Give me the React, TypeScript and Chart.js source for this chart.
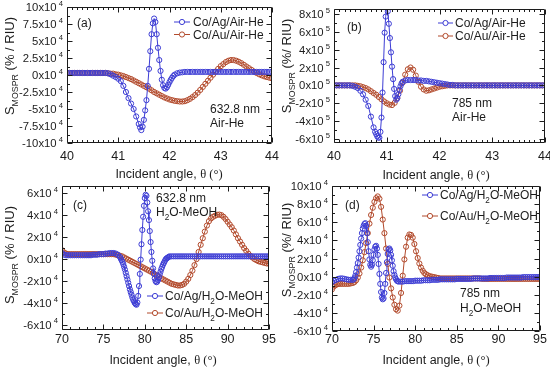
import { useEffect, useRef } from 'react';
import { Chart, registerables } from 'chart.js';

Chart.register(...registerables);

const W = 550;
const H = 367;

// ---------------- data (y in units of 10^4, panel b in 10^5) ----------------
const AG_AIR_632: number[][] = [
  [40,0.3],[40.05,0.3],[40.1,0.3],[40.15,0.3],[40.2,0.3],[40.25,0.3],[40.3,0.3],[40.35,0.3],[40.4,0.3],[40.45,0.3],
  [40.5,0.3],[40.55,0.3],[40.6,0.3],[40.65,0.3],[40.7,0.3],[40.75,0.3],[40.8,0.25],[40.85,0.1],[40.9,-0.1],[40.95,-0.3],
  [41,-0.55],[41.05,-0.9],[41.1,-1.6],[41.15,-2.5],[41.2,-3.4],[41.25,-4.2],[41.3,-5.0],[41.35,-6.1],[41.4,-7.2],[41.425,-7.7],
  [41.45,-8.1],[41.475,-7.6],[41.5,-6.6],[41.525,-5.2],[41.55,-3.7],[41.575,-1.6],[41.6,0.9],[41.625,3.5],[41.65,6.0],[41.675,7.6],
  [41.7,8.3],[41.725,7.8],[41.75,6.0],[41.775,4.0],[41.8,2.2],[41.825,0.6],[41.85,-0.7],[41.875,-1.5],[41.9,-1.9],[41.925,-2.0],
  [41.95,-1.8],[41.975,-1.45],[42,-1.05],[42.025,-0.7],[42.05,-0.4],[42.075,-0.15],[42.1,0.05],[42.15,0.25],[42.2,0.35],[42.25,0.4],
  [42.3,0.45],[42.35,0.45],[42.4,0.45],[42.45,0.45],[42.5,0.45],[42.55,0.45],[42.6,0.45],[42.65,0.45],[42.7,0.45],[42.75,0.45],
  [42.8,0.45],[42.85,0.45],[42.9,0.45],[42.95,0.45],[43,0.45],[43.05,0.45],[43.1,0.45],[43.15,0.45],[43.2,0.45],[43.25,0.45],
  [43.3,0.45],[43.35,0.45],[43.4,0.45],[43.45,0.45],[43.5,0.45],[43.55,0.45],[43.6,0.45],[43.65,0.45],[43.7,0.45],[43.75,0.45],
  [43.8,0.45],[43.85,0.45],[43.9,0.45],[43.95,0.45],[44,0.45],
];

const AU_AIR_632: number[][] = [
  [40,0.3],[40.05,0.3],[40.1,0.3],[40.15,0.3],[40.2,0.3],[40.25,0.3],[40.3,0.3],[40.35,0.3],[40.4,0.3],[40.45,0.3],
  [40.5,0.3],[40.55,0.3],[40.6,0.3],[40.65,0.3],[40.7,0.3],[40.75,0.3],[40.8,0.25],[40.85,0.2],[40.9,0.2],[40.95,0.1],
  [41,0.05],[41.05,-0.05],[41.1,-0.15],[41.15,-0.3],[41.2,-0.45],[41.25,-0.6],[41.3,-0.8],[41.35,-1.0],[41.4,-1.2],[41.45,-1.4],
  [41.5,-1.6],[41.55,-1.8],[41.6,-2.0],[41.65,-2.25],[41.7,-2.5],[41.75,-2.7],[41.8,-2.9],[41.85,-3.1],[41.9,-3.3],[41.95,-3.45],
  [42,-3.6],[42.05,-3.7],[42.1,-3.8],[42.15,-3.85],[42.2,-3.9],[42.25,-3.9],[42.3,-3.85],[42.35,-3.7],[42.4,-3.5],[42.45,-3.25],
  [42.5,-2.95],[42.55,-2.6],[42.6,-2.2],[42.65,-1.75],[42.7,-1.3],[42.75,-0.85],[42.8,-0.4],[42.85,0.05],[42.9,0.5],[42.95,0.9],
  [43,1.3],[43.05,1.6],[43.1,1.9],[43.15,2.1],[43.2,2.2],[43.25,2.2],[43.3,2.1],[43.35,1.95],[43.4,1.75],[43.45,1.5],
  [43.5,1.25],[43.55,1.0],[43.6,0.75],[43.65,0.5],[43.7,0.3],[43.75,0.1],[43.8,-0.05],[43.85,-0.2],[43.9,-0.3],[43.95,-0.4],
  [44,-0.5],
];

const AG_AIR_785: number[][] = [
  [40,0],[40.05,0],[40.1,0],[40.15,0],[40.2,0],[40.25,0],[40.3,0],[40.35,-0.05],[40.4,-0.15],[40.45,-0.3],
  [40.5,-0.6],[40.55,-1.0],[40.6,-1.6],[40.65,-2.3],[40.7,-3.5],[40.75,-4.7],[40.78,-5.2],[40.8,-5.45],[40.82,-5.7],[40.84,-5.85],
  [40.86,-5.85],[40.88,-5.2],[40.9,-3.6],[40.92,-0.8],[40.94,2.6],[40.96,5.9],[40.98,7.7],[41,8.9],[41.02,8.3],[41.04,6.9],
  [41.06,5.3],[41.08,3.7],[41.1,2.1],[41.12,0.7],[41.14,-0.4],[41.16,-1.2],[41.18,-1.6],[41.2,-1.45],[41.22,-1.0],[41.24,-0.5],
  [41.26,-0.1],[41.28,0.2],[41.3,0.4],[41.35,0.55],[41.4,0.6],[41.45,0.6],[41.5,0.6],[41.55,0.6],[41.6,0.55],[41.65,0.55],
  [41.7,0.5],[41.75,0.5],[41.8,0.45],[41.85,0.4],[41.9,0.35],[41.95,0.3],[42,0.25],[42.05,0.2],[42.1,0.15],[42.15,0.1],
  [42.2,0.05],[42.25,0.05],[42.3,0],[42.35,0],[42.4,0],[42.45,0],[42.5,0],[42.55,0],[42.6,0],[42.65,0],
  [42.7,0],[42.75,0],[42.8,0],[42.85,0],[42.9,0],[42.95,0],[43,0],[43.05,0],[43.1,0],[43.15,0],
  [43.2,0],[43.25,0],[43.3,0],[43.35,0],[43.4,0],[43.45,0],[43.5,0],[43.55,0],[43.6,0],[43.65,0],
  [43.7,0],[43.75,0],[43.8,0],[43.85,0],[43.9,0],[43.95,0],[44,0],
];

const AU_AIR_785: number[][] = [
  [40,0],[40.05,0],[40.1,0],[40.15,0],[40.2,0],[40.25,0],[40.3,0],[40.35,0],[40.4,0],[40.45,-0.05],
  [40.5,-0.1],[40.55,-0.2],[40.6,-0.3],[40.65,-0.45],[40.7,-0.65],[40.75,-0.85],[40.8,-1.05],[40.85,-1.3],[40.9,-1.55],[40.95,-1.8],
  [41,-2.0],[41.05,-2.15],[41.1,-2.2],[41.15,-1.95],[41.2,-1.4],[41.25,-0.6],[41.3,0.3],[41.35,1.2],[41.4,1.8],[41.45,2.0],
  [41.5,1.75],[41.55,1.1],[41.6,0.4],[41.65,-0.15],[41.7,-0.45],[41.75,-0.6],[41.8,-0.55],[41.85,-0.45],[41.9,-0.35],[41.95,-0.25],
  [42,-0.15],[42.05,-0.1],[42.1,-0.05],[42.15,0],[42.2,0],[42.25,0],[42.3,0],[42.35,0],[42.4,0],[42.45,0],
  [42.5,0],[42.55,0],[42.6,0],[42.65,0],[42.7,0],[42.75,0],[42.8,0],[42.85,0],[42.9,0],[42.95,0],
  [43,0],[43.05,0],[43.1,0],[43.15,0],[43.2,0],[43.25,0],[43.3,0],[43.35,0],[43.4,0],[43.45,0],
  [43.5,0],[43.55,0],[43.6,0],[43.65,0],[43.7,0],[43.75,0],[43.8,0],[43.85,0],[43.9,0],[43.95,0],
  [44,0],
];

const AG_LIQ_632: number[][] = [
  [70,0.5],[70.25,0.35],[70.5,0.3],[70.75,0.3],[71,0.3],[71.25,0.3],[71.5,0.3],[71.75,0.3],[72,0.3],[72.25,0.3],
  [72.5,0.3],[72.75,0.3],[73,0.3],[73.25,0.3],[73.5,0.3],[73.75,0.35],[74,0.35],[74.25,0.35],[74.5,0.4],[74.75,0.4],
  [75,0.4],[75.25,0.45],[75.5,0.45],[75.75,0.5],[76,0.5],[76.25,0.5],[76.5,0.45],[76.75,0.35],[77,0.15],
  [77.1,0],[77.2,-0.15],[77.3,-0.3],[77.4,-0.5],[77.5,-0.75],[77.6,-1.0],[77.7,-1.3],[77.8,-1.6],[77.9,-1.9],[78,-2.2],
  [78.1,-2.5],[78.2,-2.8],[78.3,-3.05],[78.4,-3.3],[78.5,-3.55],[78.6,-3.75],[78.7,-3.9],[78.8,-4.05],[78.9,-4.15],[79,-4.2],
  [79.1,-4.0],[79.2,-3.4],[79.3,-2.5],[79.4,-1.4],[79.5,-0.1],[79.6,1.3],[79.7,2.6],[79.8,3.8],[79.9,4.8],[80,5.5],
  [80.1,5.8],[80.2,5.7],[80.3,5.1],[80.4,4.3],[80.5,3.5],[80.6,2.5],[80.7,1.5],[80.8,0.6],[80.9,-0.2],[81,-0.9],
  [81.1,-1.4],[81.2,-1.8],[81.3,-2.05],[81.4,-2.15],[81.5,-2.1],[81.6,-1.95],[81.7,-1.7],[81.8,-1.45],[81.9,-1.2],[82,-0.95],
  [82.1,-0.75],[82.2,-0.55],[82.3,-0.4],[82.4,-0.25],[82.5,-0.1],[82.6,0],[82.7,0.05],[82.8,0.1],[82.9,0.15],[83,0.2],
  [83.25,0.2],[83.5,0.2],[83.75,0.2],[84,0.2],[84.25,0.2],[84.5,0.2],[84.75,0.2],[85,0.2],[85.25,0.2],[85.5,0.2],
  [85.75,0.2],[86,0.2],[86.25,0.2],[86.5,0.2],[86.75,0.2],[87,0.2],[87.25,0.2],[87.5,0.2],[87.75,0.2],[88,0.2],
  [88.25,0.2],[88.5,0.2],[88.75,0.2],[89,0.2],[89.25,0.2],[89.5,0.2],[89.75,0.2],[90,0.2],[90.25,0.2],[90.5,0.2],
  [90.75,0.2],[91,0.2],[91.25,0.2],[91.5,0.2],[91.75,0.2],[92,0.2],[92.25,0.2],[92.5,0.2],[92.75,0.2],[93,0.2],
  [93.25,0.2],[93.5,0.2],[93.75,0.2],[94,0.2],[94.25,0.2],[94.5,0.2],[94.75,0.2],[95,0.2],
];

const AU_LIQ_632: number[][] = [
  [70,0.75],[70.25,0.55],[70.5,0.45],[70.75,0.4],[71,0.4],[71.25,0.4],[71.5,0.4],[71.75,0.4],[72,0.4],[72.25,0.4],
  [72.5,0.4],[72.75,0.4],[73,0.4],[73.25,0.4],[73.5,0.4],[73.75,0.4],[74,0.4],[74.25,0.4],[74.5,0.4],[74.75,0.4],
  [75,0.4],[75.25,0.4],[75.5,0.4],[75.75,0.4],[76,0.4],[76.25,0.4],[76.5,0.35],[76.75,0.3],[77,0.25],[77.25,0.2],
  [77.5,0.1],[77.75,0],[78,-0.1],[78.25,-0.2],[78.5,-0.3],[78.75,-0.4],[79,-0.5],[79.25,-0.6],[79.5,-0.7],[79.75,-0.8],
  [80,-0.9],[80.25,-1.0],[80.5,-1.1],[80.75,-1.2],[81,-1.3],[81.25,-1.45],[81.5,-1.55],[81.75,-1.7],[82,-1.8],[82.25,-1.9],
  [82.5,-2.0],[82.75,-2.1],[83,-2.2],[83.25,-2.3],[83.5,-2.35],[83.75,-2.4],[84,-2.45],[84.25,-2.45],[84.5,-2.4],[84.75,-2.3],
  [85,-2.1],[85.25,-1.85],[85.5,-1.5],[85.75,-1.1],[86,-0.6],[86.25,-0.05],[86.5,0.6],[86.75,1.25],[87,1.85],[87.25,2.45],
  [87.5,3.0],[87.75,3.4],[88,3.65],[88.25,3.8],[88.5,3.9],[88.75,3.98],[89,4.0],[89.25,3.95],[89.5,3.8],[89.75,3.6],
  [90,3.35],[90.25,3.1],[90.5,2.85],[90.75,2.55],[91,2.2],[91.25,1.85],[91.5,1.55],[91.75,1.25],[92,0.95],[92.25,0.7],
  [92.5,0.45],[92.75,0.25],[93,0.1],[93.25,-0.05],[93.5,-0.15],[93.75,-0.25],[94,-0.3],[94.25,-0.35],[94.5,-0.4],[94.75,-0.45],
  [95,-0.45],
];

const AG_LIQ_785: number[][] = [
  [70,-0.6],[70.25,-0.45],[70.5,-0.35],[70.75,-0.25],[71,-0.2],[71.25,-0.2],[71.5,-0.25],[71.75,-0.3],[72,-0.35],[72.25,-0.35],
  [72.5,-0.35],[72.6,-0.3],[72.7,-0.15],[72.8,0.1],[72.9,0.5],[73,1.0],[73.1,1.5],[73.2,2.1],[73.3,2.8],[73.4,3.5],
  [73.5,4.2],[73.6,4.8],[73.7,5.3],[73.8,5.6],[73.9,5.8],[74,5.9],[74.1,5.6],[74.2,4.8],[74.3,3.8],[74.4,2.8],
  [74.5,1.9],[74.6,1.3],[74.7,1.1],[74.8,1.3],[74.9,1.8],[75,2.4],[75.1,3.0],[75.2,3.3],[75.3,3.4],[75.4,3.1],
  [75.5,2.4],[75.6,1.4],[75.7,0.3],[75.8,-0.8],[75.9,-1.7],[76,-2.3],[76.1,-2.5],[76.2,-2.4],[76.3,-1.8],[76.4,-0.8],
  [76.5,0.4],[76.6,1.6],[76.7,2.5],[76.8,3.0],[76.9,3.1],[77,2.9],[77.1,2.4],[77.2,1.8],[77.3,1.2],[77.4,0.6],
  [77.5,0.2],[77.6,-0.1],[77.7,-0.3],[77.8,-0.45],[77.9,-0.5],[78,-0.55],[78.25,-0.55],[78.5,-0.55],[78.75,-0.5],[79,-0.5],
  [79.25,-0.5],[79.5,-0.5],[79.75,-0.5],[80,-0.45],[80.25,-0.45],[80.5,-0.45],[80.75,-0.45],[81,-0.4],[81.25,-0.4],[81.5,-0.4],
  [81.75,-0.4],[82,-0.35],[82.25,-0.35],[82.5,-0.35],[82.75,-0.35],[83,-0.3],[83.25,-0.3],[83.5,-0.3],[83.75,-0.3],[84,-0.3],
  [84.25,-0.3],[84.5,-0.3],[84.75,-0.3],[85,-0.25],[85.25,-0.25],[85.5,-0.25],[85.75,-0.25],[86,-0.25],[86.25,-0.25],[86.5,-0.25],
  [86.75,-0.25],[87,-0.2],[87.25,-0.2],[87.5,-0.2],[87.75,-0.2],[88,-0.2],[88.25,-0.2],[88.5,-0.2],[88.75,-0.2],[89,-0.15],
  [89.25,-0.15],[89.5,-0.15],[89.75,-0.15],[90,-0.15],[90.25,-0.15],[90.5,-0.15],[90.75,-0.15],[91,-0.1],[91.25,-0.1],[91.5,-0.1],
  [91.75,-0.1],[92,-0.1],[92.25,-0.1],[92.5,-0.1],[92.75,-0.1],[93,-0.05],[93.25,-0.05],[93.5,-0.05],[93.75,-0.05],[94,-0.05],
  [94.25,-0.05],[94.5,-0.05],[94.75,-0.05],[95,-0.05],
];

const AU_LIQ_785: number[][] = [
  [70,-1.4],[70.2,-1.1],[70.4,-0.95],[70.6,-0.85],[70.8,-0.8],[71,-0.8],[71.25,-0.8],[71.5,-0.8],[71.75,-0.8],[72,-0.8],
  [72.25,-0.75],[72.5,-0.7],[72.7,-0.6],[72.9,-0.4],[73.1,-0.1],[73.3,0.35],[73.5,1.0],[73.7,1.8],[73.9,2.7],[74.1,3.7],
  [74.3,4.8],[74.5,5.85],[74.7,6.8],[74.9,7.6],[75.1,8.25],[75.3,8.65],[75.5,8.85],[75.7,8.6],[75.9,7.7],[76.1,6.3],
  [76.3,4.8],[76.5,3.1],[76.7,1.4],[76.9,-0.1],[77.1,-1.3],[77.3,-2.3],[77.5,-3.1],[77.7,-3.6],[77.9,-3.75],[78.1,-3.2],
  [78.3,-1.8],[78.5,0.1],[78.7,1.9],[78.9,3.3],[79.1,4.3],[79.3,4.65],[79.5,4.6],[79.7,4.3],[79.9,3.6],[80.1,2.8],
  [80.3,2.05],[80.5,1.45],[80.7,1.0],[80.9,0.65],[81.1,0.4],[81.3,0.25],[81.5,0.15],[81.75,0.05],[82,0],[82.25,-0.05],
  [82.5,-0.1],[82.75,-0.15],[83,-0.2],[83.25,-0.2],[83.5,-0.2],[83.75,-0.2],[84,-0.2],[84.25,-0.2],[84.5,-0.2],[84.75,-0.2],
  [85,-0.2],[85.25,-0.2],[85.5,-0.2],[85.75,-0.2],[86,-0.2],[86.25,-0.2],[86.5,-0.2],[86.75,-0.2],[87,-0.2],[87.25,-0.2],
  [87.5,-0.2],[87.75,-0.2],[88,-0.25],[88.25,-0.25],[88.5,-0.25],[88.75,-0.25],[89,-0.25],[89.25,-0.25],[89.5,-0.25],[89.75,-0.25],
  [90,-0.25],[90.25,-0.25],[90.5,-0.25],[90.75,-0.25],[91,-0.25],[91.25,-0.25],[91.5,-0.25],[91.75,-0.25],[92,-0.25],[92.25,-0.25],
  [92.5,-0.25],[92.75,-0.25],[93,-0.25],[93.25,-0.25],[93.5,-0.25],[93.75,-0.25],[94,-0.25],[94.25,-0.25],[94.5,-0.25],[94.75,-0.25],
  [95,-0.25],
];

const X_TICKS_AIR = [40, 41, 42, 43, 44];
const X_TICKS_LIQ = [70, 75, 80, 85, 90, 95];
const Y_TICKS_A = [-10, -7.5, -5, -2.5, 0, 2.5, 5, 7.5, 10];
const Y_TICKS_B = [-6, -4, -2, 0, 2, 4, 6, 8];
const Y_TICKS_C = [-6, -4, -2, 0, 2, 4, 6];
const Y_TICKS_D = [-6, -4, -2, 0, 2, 4, 6, 8, 10];
const LEGEND_AIR = ['Co/Ag/Air-He', 'Co/Au/Air-He'];
const LEGEND_LIQ = ['Co/Ag/H_2O-MeOH', 'Co/Au/H_2O-MeOH'];

// ---------------- style ----------------
const SANS = '"Liberation Sans", Arial, sans-serif';
const SERIF = '"Liberation Serif", "Times New Roman", serif';
const INK = '#1c1c1c';
const COLORS = ['#3d3dd4', '#b24a2c'];

type Seg = { t: string; k: number; f?: string };

function parseRich(s: string): Seg[] {
  const out: Seg[] = [];
  let buf = '';
  let i = 0;
  while (i < s.length) {
    const c = s[i];
    if ((c === '_' || c === '^') && i + 1 < s.length) {
      if (buf) { out.push({ t: buf, k: 0 }); buf = ''; }
      let t: string;
      if (s[i + 1] === '{') { const j = s.indexOf('}', i + 2); t = s.slice(i + 2, j); i = j + 1; }
      else { t = s[i + 1]; i += 2; }
      out.push({ t, k: c === '_' ? -1 : 1 });
    } else { buf += c; i++; }
  }
  if (buf) out.push({ t: buf, k: 0 });
  return out;
}

function segFont(s: Seg, size: number, fam: string) {
  return `${s.k ? size * 0.68 : size}px ${s.f || fam}`;
}

function richWidth(ctx: CanvasRenderingContext2D, segs: Seg[], size: number, fam: string) {
  let w = 0;
  for (const s of segs) { ctx.font = segFont(s, size, fam); w += ctx.measureText(s.t).width; }
  return w;
}

function drawRich(ctx: CanvasRenderingContext2D, segs: Seg[], x: number, y: number, size: number, fam: string, align: string) {
  const w = richWidth(ctx, segs, size, fam);
  let cx = align === 'left' ? x : align === 'right' ? x - w : x - w / 2;
  const base = y + size * 0.36;
  ctx.textAlign = 'left';
  ctx.textBaseline = 'alphabetic';
  for (const s of segs) {
    ctx.font = segFont(s, size, fam);
    const dy = s.k < 0 ? size * 0.3 : s.k > 0 ? -size * 0.45 : 0;
    ctx.fillText(s.t, cx, base + dy);
    cx += ctx.measureText(s.t).width;
  }
}

function minorTicks(majors: number[], step: number, lo: number, hi: number) {
  const out: number[] = [];
  const base = majors[0];
  const nLo = Math.ceil((lo - base) / step - 1e-9);
  const nHi = Math.floor((hi - base) / step + 1e-9);
  for (let k = nLo; k <= nHi; k++) {
    const v = base + k * step;
    if (!majors.some((m) => Math.abs(m - v) < step * 0.01)) out.push(v);
  }
  return out;
}

type PanelSpec = {
  tag: string;
  series: number[][][];
  names: string[];
  x: number[];
  y: number[];
  xTicks: number[];
  xMinor: number;
  yTicks: number[];
  yMinor: number;
  exp: string;
  area: { l: number; t: number; r: number; b: number };
  xLabY: number;
  yTitle: { x: number; y: number; text: string };
  xTitle: { x: number; y: number };
  tagPos: number[];
  legend: { lx0: number; lx1: number; tx: number; rows: number[] };
  notes: { x: number; y: number; t: string }[];
};

const PANELS: PanelSpec[] = [
  {
    tag: '(a)', series: [AG_AIR_632, AU_AIR_632], names: LEGEND_AIR,
    x: [40, 44], y: [-10, 10], xTicks: X_TICKS_AIR, xMinor: 0.1, yTicks: Y_TICKS_A, yMinor: 1.25, exp: '4',
    area: { l: 67, t: 7, r: 272, b: 143 }, xLabY: 155,
    yTitle: { x: 9, y: 66, text: 'S_{MOSPR} (% / RIU)' },
    xTitle: { x: 169, y: 173 },
    tagPos: [77, 23],
    legend: { lx0: 174, lx1: 190, tx: 193, rows: [22, 34.5] },
    notes: [{ x: 210, y: 109, t: '632.8 nm' }, { x: 210, y: 123, t: 'Air-He' }],
  },
  {
    tag: '(b)', series: [AG_AIR_785, AU_AIR_785], names: LEGEND_AIR,
    x: [40, 44], y: [-6.45, 8.55], xTicks: X_TICKS_AIR, xMinor: 0.1, yTicks: Y_TICKS_B, yMinor: 1, exp: '5',
    area: { l: 334, t: 9, r: 545, b: 143 }, xLabY: 155,
    yTitle: { x: 286, y: 66, text: 'S_{MOSPR} (%/ RIU)' },
    xTitle: { x: 436, y: 174 },
    tagPos: [347, 27],
    legend: { lx0: 438, lx1: 453, tx: 455, rows: [23, 36] },
    notes: [{ x: 452, y: 103, t: '785 nm' }, { x: 452, y: 117, t: 'Air-He' }],
  },
  {
    tag: '(c)', series: [AG_LIQ_632, AU_LIQ_632], names: LEGEND_LIQ,
    x: [70, 95], y: [-6.5, 6.6], xTicks: X_TICKS_LIQ, xMinor: 1, yTicks: Y_TICKS_C, yMinor: 1, exp: '4',
    area: { l: 62, t: 186, r: 269, b: 330 }, xLabY: 338.5,
    yTitle: { x: 9, y: 255, text: 'S_{MOSPR} (% / RIU)' },
    xTitle: { x: 163, y: 359 },
    tagPos: [73, 205],
    legend: { lx0: 147, lx1: 163, tx: 165, rows: [296, 313] },
    notes: [{ x: 156, y: 198, t: '632.8 nm' }, { x: 156, y: 212, t: 'H_2O-MeOH' }],
  },
  {
    tag: '(d)', series: [AG_LIQ_785, AU_LIQ_785], names: LEGEND_LIQ,
    x: [70, 95], y: [-6, 10], xTicks: X_TICKS_LIQ, xMinor: 1, yTicks: Y_TICKS_D, yMinor: 1, exp: '4',
    area: { l: 332, t: 186, r: 540, b: 331 }, xLabY: 338.5,
    yTitle: { x: 286, y: 250, text: 'S_{MOSPR} (%/ RIU)' },
    xTitle: { x: 436, y: 359 },
    tagPos: [345, 205],
    legend: { lx0: 422, lx1: 438, tx: 440, rows: [195, 216] },
    notes: [{ x: 460, y: 293, t: '785 nm' }, { x: 460, y: 308, t: 'H_2O-MeOH' }],
  },
];

function decor(p: PanelSpec) {
  return {
    id: 'decor',
    afterDraw(chart: any) {
      const ctx: CanvasRenderingContext2D = chart.ctx;
      const xs = chart.scales.x;
      const ys = chart.scales.y;
      const { left, right, top, bottom } = chart.chartArea;
      const L = Math.round(left) + 0.5;
      const R = Math.round(right) - 0.5;
      const T = Math.round(top) + 0.5;
      const B = Math.round(bottom) - 0.5;
      ctx.save();
      ctx.strokeStyle = INK;
      ctx.lineWidth = 1;
      ctx.beginPath();
      ctx.rect(L, T, R - L, B - T);
      ctx.stroke();

      ctx.beginPath();
      const tx = (v: number, len: number) => {
        const x = Math.round(xs.getPixelForValue(v)) + 0.5;
        ctx.moveTo(x, B); ctx.lineTo(x, B - len);
        ctx.moveTo(x, T); ctx.lineTo(x, T + len);
      };
      const ty = (v: number, len: number) => {
        const y = Math.round(ys.getPixelForValue(v)) + 0.5;
        ctx.moveTo(L, y); ctx.lineTo(L + len, y);
        ctx.moveTo(R, y); ctx.lineTo(R - len, y);
      };
      p.xTicks.forEach((v) => tx(v, 5));
      minorTicks(p.xTicks, p.xMinor, p.x[0], p.x[1]).forEach((v) => tx(v, 2.5));
      p.yTicks.forEach((v) => ty(v, 5));
      minorTicks(p.yTicks, p.yMinor, p.y[0], p.y[1]).forEach((v) => ty(v, 2.5));
      ctx.stroke();

      ctx.fillStyle = INK;
      for (const v of p.xTicks) {
        drawRich(ctx, [{ t: String(v), k: 0 }], xs.getPixelForValue(v), p.xLabY, 12.5, SANS, 'center');
      }
      for (const v of p.yTicks) {
        drawRich(ctx, [{ t: `${v}x10`, k: 0 }, { t: ` ${p.exp}`, k: 1 }], left - 4, ys.getPixelForValue(v), 11.3, SANS, 'right');
      }
      drawRich(ctx, [{ t: 'Incident angle, ', k: 0 }, { t: 'θ (°)', k: 0, f: SERIF }], p.xTitle.x, p.xTitle.y, 12.5, SANS, 'center');
      ctx.save();
      ctx.translate(p.yTitle.x, p.yTitle.y);
      ctx.rotate(-Math.PI / 2);
      drawRich(ctx, parseRich(p.yTitle.text), 0, 0, 13, SANS, 'center');
      ctx.restore();
      drawRich(ctx, [{ t: p.tag, k: 0 }], p.tagPos[0], p.tagPos[1], 12, SANS, 'left');
      for (const n of p.notes) drawRich(ctx, parseRich(n.t), n.x, n.y, 12, SANS, 'left');
      p.names.forEach((name, i) => {
        const y = p.legend.rows[i];
        ctx.strokeStyle = COLORS[i];
        ctx.lineWidth = 1;
        ctx.beginPath();
        ctx.moveTo(p.legend.lx0, y); ctx.lineTo(p.legend.lx1, y);
        ctx.stroke();
        ctx.beginPath();
        ctx.arc((p.legend.lx0 + p.legend.lx1) / 2, y, 2.6, 0, Math.PI * 2);
        ctx.fillStyle = '#fff';
        ctx.fill();
        ctx.stroke();
        ctx.fillStyle = INK;
        drawRich(ctx, parseRich(name), p.legend.tx, y, 12, SANS, 'left');
      });
      ctx.restore();
    },
  };
}

function Panel({ p }: { p: PanelSpec }) {
  const ref = useRef<HTMLCanvasElement>(null);
  useEffect(() => {
    const chart = new Chart(ref.current as HTMLCanvasElement, {
      type: 'scatter',
      data: {
        datasets: p.series.map((s, i) => ({
          label: p.names[i],
          data: s.map(([x, y]) => ({ x, y })),
          showLine: true,
          borderColor: COLORS[i],
          borderWidth: 1,
          pointRadius: 2.6,
          pointBorderWidth: 1,
          pointBorderColor: COLORS[i],
          pointBackgroundColor: 'rgba(255,255,255,0)',
          clip: 0,
        })),
      },
      options: {
        responsive: false,
        animation: false,
        devicePixelRatio: 1,
        events: [],
        layout: { padding: { left: p.area.l, top: p.area.t, right: W - p.area.r, bottom: H - p.area.b } },
        plugins: { legend: { display: false }, tooltip: { enabled: false }, title: { display: false } },
        scales: {
          x: { type: 'linear', display: false, min: p.x[0], max: p.x[1] },
          y: { type: 'linear', display: false, min: p.y[0], max: p.y[1] },
        },
      } as any,
      plugins: [decor(p)],
    });
    return () => chart.destroy();
  }, [p]);
  return (
    <canvas
      ref={ref}
      width={W}
      height={H}
      style={{ position: 'absolute', left: 0, top: 0, width: W, height: H, display: 'block' }}
    />
  );
}

export default function App() {
  return (
    <div style={{ position: 'fixed', left: 0, top: 0, width: W, height: H, background: '#fff', overflow: 'hidden' }}>
      {PANELS.map((p) => (
        <Panel key={p.tag} p={p} />
      ))}
    </div>
  );
}
